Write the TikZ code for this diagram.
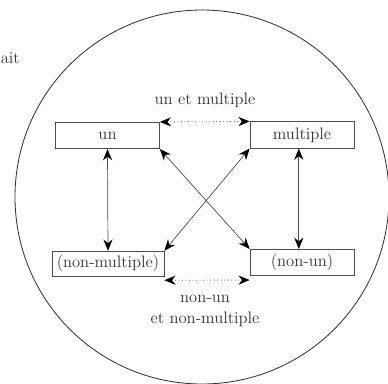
\documentclass[tikz,border=0pt]{standalone}
\usepackage{tikz}
\usetikzlibrary{arrows.meta}
\usetikzlibrary{calc}
\def\thickness{0.5pt}
\def\boxwidth{2.6cm}
\def\boxheight{0.66cm}
\colorlet{ink}{black!80}
\tikzstyle{term}=[draw=black!70, line width=\thickness, text=ink, minimum width=\boxwidth, minimum height=\boxheight, inner sep=0.5mm]
\tikzstyle{label}=[text=ink, align=center]
\tikzstyle{rel}=[draw=black!70, line width=\thickness, {Stealth[length=8pt,width=6.5pt,black]}-{Stealth[length=8pt,width=6.5pt,black]}]
\tikzstyle{contrary}=[rel, dotted, line width=0.6pt]

\begin{document}
\begin{tikzpicture}[x=0.025cm, y=-0.025cm, font=\fontsize{11.8}{14}\selectfont]
\useasboundingbox (0,0) rectangle (388,383);
\draw [line width=0.6pt, ink] (202,197) circle [radius=187];
\node [label, anchor=base west, inner sep=0pt] (ait) at (0.5,63) {ait};
\node [term] (un) at (107.5,135.5) {un};
\node [term] (mult) at (302,135) {multiple};
\node [term, minimum width=2.8cm, minimum height=0.62cm] (nonmult) at (108,263.5) {(non-multiple)};
\node [term] (nonun) at (302,262.5) {(non-un)};
\node [label] (top) at (205,100) {un et multiple};
\node [label] (bottom) at (205,311) {non-un\\[1pt]et non-multiple};
\draw [contrary] (un.north east) to (mult.north west);
\draw [contrary] ([yshift=-0.1cm]nonmult.south east) to ([yshift=-0.1cm]nonun.south west);
\draw [rel] (un.south) to (nonmult.north);
\draw [rel] ([xshift=-0.08cm]mult.south) to ([xshift=-0.08cm]nonun.north);
\draw [rel] (un.south east) to (nonun.north west);
\draw [rel] (mult.south west) to (nonmult.north east);
\end{tikzpicture}
\end{document}
